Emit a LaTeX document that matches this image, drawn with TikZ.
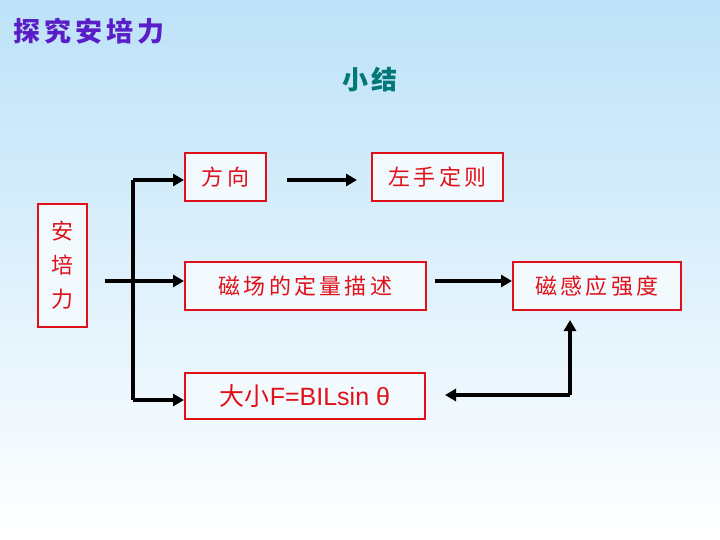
\documentclass[tikz,border=0pt]{standalone}
\usepackage{fontspec}
\setmainfont{Liberation Sans}
\newfontfamily\cjk{Noto Sans CJK SC}
\newfontfamily\cjks[LetterSpace=15]{Noto Sans CJK SC}
\usetikzlibrary{arrows.meta}
\definecolor{bgtop}{HTML}{BDE2F8}
\definecolor{ttl}{HTML}{5A1EC8}
\definecolor{teal2}{HTML}{007878}
\definecolor{bred}{HTML}{E0101A}
\begin{document}
\begin{tikzpicture}[x=1pt,y=-1pt,
 box/.style={draw=bred,line width=1.8pt,fill=white!40!bgtop!30,text=bred,font=\cjks\fontsize{22}{24}\selectfont,inner sep=0pt,anchor=north west},
 con/.style={line width=3.5pt,black},
 arr/.style={con,-{Triangle[length=11pt,width=12pt]}}]
\shade[top color=bgtop,bottom color=white] (0,0) rectangle (720,540);
\useasboundingbox (0,0) rectangle (720,540);
\node[anchor=west,text=ttl,font=\cjks\bfseries\fontsize{27}{30}\selectfont] (t) at (10,31) {探究安培力};
\node[text=teal2,font=\cjks\bfseries\fontsize{26}{30}\selectfont] (s) at (370,80) {小结};
\node[box,minimum width=49pt,minimum height=123pt,align=center,font=\cjk\fontsize{22}{24}\selectfont] (a) at (37,203) {安\\[10pt]培\\[10pt]力};
\node[box,minimum width=81pt,minimum height=48pt] (f) at (184,152) {方向};
\node[box,minimum width=131pt,minimum height=48pt] (z) at (371,152) {左手定则};
\node[box,minimum width=241pt,minimum height=48pt] (c) at (184,261) {磁场的定量描述};
\node[box,minimum width=168pt,minimum height=48pt] (b) at (512,261) {磁感应强度};
\node[box,minimum width=240pt,minimum height=46pt,font=\fontsize{25}{28}\selectfont] (d) at (184,372) {{\cjk 大小}F=BILsin θ};
\coordinate (j1) at (105,281);
\coordinate (j2) at (133,180);
\coordinate (j3) at (133,400);
\coordinate (p1) at (287,180);
\coordinate (p2) at (357,180);
\coordinate (q1) at (435,281);
\coordinate (r1) at (570,395);
\coordinate (r2) at (570,320);
\coordinate (r3) at (445,395);
\draw[arr] (j1) -- (j1 -| c.west);
\draw[con] (j2) -- (j3);
\draw[arr] (j2) -- (j2 -| f.west);
\draw[arr] (j3) -- (j3 -| d.west);
\draw[arr] (p1) -- (p2);
\draw[arr] (q1) -- (q1 -| b.west);
\draw[arr] (r1) -- (r2);
\draw[arr] (r1) -- (r3);
\end{tikzpicture}
\end{document}
